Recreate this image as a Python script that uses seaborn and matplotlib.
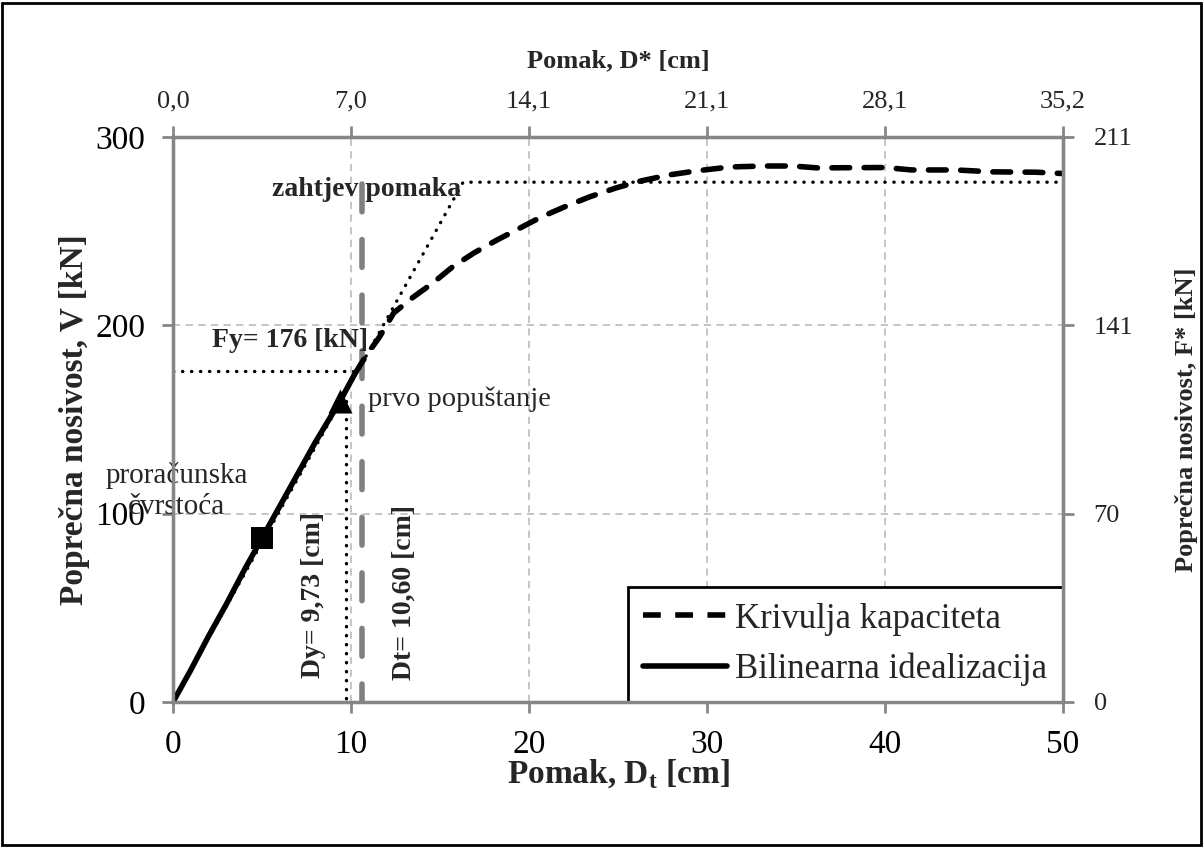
import matplotlib
matplotlib.use("Agg")
import matplotlib.pyplot as plt
import seaborn as sns
import pandas as pd
from matplotlib.patches import Rectangle
from matplotlib.lines import Line2D

# ---------------- data ----------------
# capacity curve (nonlinear part, dashed)
cap_x = [10.2, 10.7, 11.2, 11.6, 12.4, 13.5, 14.6, 15.7, 16.9, 18.2, 19.3, 20.7, 22.0,
         23.4, 24.9, 26.3, 27.9, 29.4, 31.3, 33.3, 34.8, 36.2, 40.0, 41.5, 44.0, 46.0,
         48.5, 50.0]
cap_y = [174, 181.6, 188.5, 193.8, 206.6, 215, 222.5, 231, 238.4, 245.3, 250.7, 257.6, 262.9,
         268.2, 273, 276.7, 279.9, 282, 284.1, 284.6, 284.6, 283.6, 283.8, 282.5, 282.5, 281.5,
         281.3, 280.6]
# initial (elastic) part, solid
ela_x = [0, 1.0, 2.0, 3.0, 4.0, 5.0, 6.0, 7.0, 8.0, 9.4, 10.2]
ela_y = [0, 17, 35, 52, 70, 87, 104, 121, 138, 160, 174]
# bilinear idealisation (dotted)
bil_x = [0, 16.3, 50]
bil_y = [0, 276, 276]
# yield force / displacement guides
fy_x = [0, 10.5]
fy_y = [176, 176]
dy_x = [9.73, 9.73]
dy_y = [160, 0]
# target displacement
dt_x = [10.60, 10.60]
dt_y = [275, 0]
# markers
sq_x, sq_y = [5.0], [87]
tri_x, tri_y = [9.4], [160]

x_ticks = [0, 10, 20, 30, 40, 50]
y_ticks = [0, 100, 200, 300]
top_tick_labels = ["0,0", "7,0", "14,1", "21,1", "28,1", "35,2"]
right_tick_labels = ["0", "70", "141", "211"]

# ---------------- style ----------------
sns.set_style("white")
plt.rcParams["font.family"] = ["Liberation Serif", "DejaVu Serif"]
plt.rcParams["mathtext.fontset"] = "custom"
plt.rcParams["mathtext.rm"] = "Liberation Serif"
plt.rcParams["mathtext.bf"] = "Liberation Serif:bold"

SPINE = "#868686"
GRID = "#c0c0c0"

fig = plt.figure(figsize=(12.03, 8.48), dpi=100)
ax = fig.add_axes([173 / 1203, 1 - 702 / 848, 890 / 1203, 565 / 848])

ax.set_xlim(0, 50)
ax.set_ylim(0, 300)

# grid
for gx in x_ticks[1:-1]:
    ax.axvline(gx, color=GRID, lw=1.3, ls=(0, (4, 3)), zorder=0)
for gy in y_ticks[1:-1]:
    ax.axhline(gy, color=GRID, lw=1.3, ls=(0, (4, 3)), zorder=0)

dot = (0, (0.1, 2.6))
# dotted guides
for xs, ys in [(bil_x, bil_y), (fy_x, fy_y), (dy_x, dy_y)]:
    l = sns.lineplot(x=xs, y=ys, ax=ax, sort=False, estimator=None, color="black",
                     lw=2.4, zorder=3)
    l.lines[-1].set_linestyle(dot)
    l.lines[-1].set_dash_capstyle("round")

# target displacement (gray dashed)
sns.lineplot(x=dt_x, y=dt_y, ax=ax, sort=False, estimator=None, color="#808080", lw=4, zorder=2)
ax.lines[-1].set_linestyle((0, (5, 5)))
ax.lines[-1].set_dash_capstyle("round")

# capacity curve
sns.lineplot(x=cap_x, y=cap_y, ax=ax, sort=False, estimator=None, color="black", lw=4, zorder=4)
ax.lines[-1].set_linestyle((0, (3.2, 2.6)))
ax.lines[-1].set_dash_capstyle("round")
sns.lineplot(x=ela_x, y=ela_y, ax=ax, sort=False, estimator=None, color="black", lw=4, zorder=4)

sns.scatterplot(x=sq_x, y=sq_y, ax=ax, marker="s", s=230, color="black", zorder=5, linewidth=0)
sns.scatterplot(x=tri_x, y=tri_y, ax=ax, marker="^", s=300, color="black", zorder=5, linewidth=0)

# spines / ticks
for s in ax.spines.values():
    s.set_color(SPINE)
    s.set_linewidth(2.3)
ax.set_xticks(x_ticks)
ax.set_yticks(y_ticks)
ax.tick_params(axis="both", direction="out", length=8, width=2, color=SPINE,
               labelsize=24, labelcolor="black", pad=12)
ax.set_xlabel(r"Pomak, D$_{\mathbf{t}}$ [cm]", fontsize=24, fontweight="bold", labelpad=-2)
ax.set_ylabel("Poprečna nosivost, V [kN]", fontsize=24, fontweight="bold", labelpad=4)

# secondary axes
axt = ax.twiny()
axt.set_xlim(ax.get_xlim())
axt.set_xticks(x_ticks)
axt.set_xticklabels(top_tick_labels)
axt.tick_params(axis="x", direction="out", length=8, width=2, color=SPINE, labelsize=19, pad=10)
axt.set_xlabel("Pomak, D* [cm]", fontsize=19, fontweight="bold", labelpad=16)
axr = ax.twinx()
axr.set_ylim(ax.get_ylim())
axr.set_yticks(y_ticks)
axr.set_yticklabels(right_tick_labels)
axr.tick_params(axis="y", direction="out", length=8, width=2, color=SPINE, labelsize=19, pad=14)
axr.set_ylabel("Poprečna nosivost, F* [kN]", fontsize=19, fontweight="bold", labelpad=30)
for a in (axt, axr):
    for s in a.spines.values():
        s.set_color(SPINE)
        s.set_linewidth(2.3)
    a.grid(False)

# annotations
ax.text(16.2, 272, "zahtjev pomaka", fontsize=20, fontweight="bold", ha="right", va="center", zorder=6)
ax.text(10.95, 192, "Fy= 176 [kN]", fontsize=20, fontweight="bold", ha="right", va="center", zorder=6)
ax.text(10.95, 161, "prvo popuštanje", fontsize=20.5, ha="left", va="center", zorder=6)
ax.text(0.2, 112, "proračunska\nčvrstoća", fontsize=21, ha="center", va="center",
        multialignment="center", linespacing=1.25, zorder=6, clip_on=False)
ax.text(7.87, 57, "Dy= 9,73 [cm]", fontsize=20, fontweight="bold", rotation=90,
        ha="center", va="center", zorder=6)
ax.text(13.0, 58, "Dt= 10,60 [cm]", fontsize=20, fontweight="bold", rotation=90,
        ha="center", va="center", zorder=6)

# legend
h1 = Line2D([], [], color="black", lw=4, ls=(0, (3.2, 2.6)))
h2 = Line2D([], [], color="black", lw=4)
leg = ax.legend([h1, h2], ["Krivulja kapaciteta", "Bilinearna idealizacija"], loc="lower right",
                bbox_to_anchor=(1, 0), borderaxespad=0, fontsize=25, frameon=True, fancybox=False,
                edgecolor="black", framealpha=1, handlelength=2.4, handletextpad=0.25,
                borderpad=0.45, labelspacing=0.5)
leg.get_frame().set_linewidth(2)
leg.set_zorder(10)

# outer frame
fig.patches.append(Rectangle((0.002, 0.003), 0.996, 0.994, transform=fig.transFigure,
                             fill=False, edgecolor="black", lw=2))

fig.savefig("out.png", dpi=100)
